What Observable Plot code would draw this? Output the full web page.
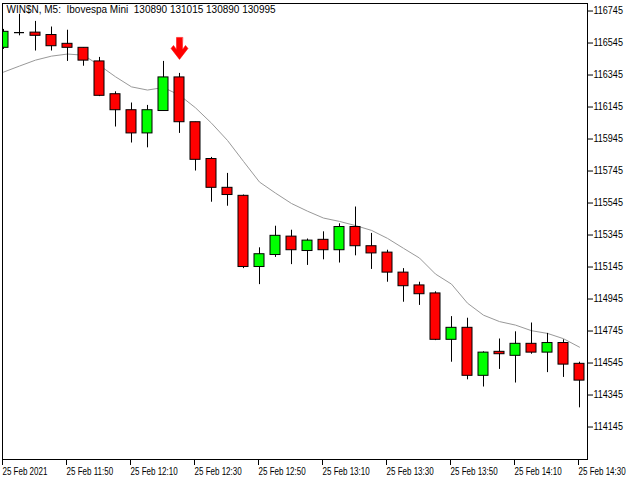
<!DOCTYPE html>
<html>
<head>
<meta charset="utf-8">
<script src="https://cdn.jsdelivr.net/npm/d3@7"></script>
<script src="https://cdn.jsdelivr.net/npm/@observablehq/plot@0.6"></script>
<style>
  body { margin: 0; background: #fff; }
  #chart svg { display: block; }
</style>
</head>
<body>
<div id="chart"></div>
<script>
// ---- data (5-minute candles, 25 Feb 2021) ----
const times = ["11:30","11:35","11:40","11:45","11:50","11:55","12:00","12:05","12:10","12:15",
               "12:20","12:25","12:30","12:35","12:40","12:45","12:50","12:55","13:00","13:05",
               "13:10","13:15","13:20","13:25","13:30","13:35","13:40","13:45","13:50","13:55",
               "14:00","14:05","14:10","14:15","14:20","14:25","14:30"];
const open  = [116515,116610,116610,116595,116540,116515,116430,116225,116125,115980,
               116120,116330,116050,115820,115640,115590,115145,115220,115335,115245,
               115315,115250,115395,115275,115235,115110,115030,114980,114690,114765,
               114465,114615,114590,114665,114610,114670,114540];
const high  = [116630,116725,116680,116645,116625,116515,116455,116240,116170,116155,
               116430,116355,116050,115830,115730,115595,115265,115400,115375,115320,
               115365,115415,115520,115355,115250,115135,115050,114990,114835,114825,
               114615,114695,114740,114795,114730,114690,114550];
const low   = [116505,116590,116495,116495,116430,116400,116210,116020,115920,115890,
               116120,115980,115745,115550,115525,115135,115035,115205,115160,115155,
               115190,115170,115215,115130,115050,114925,114905,114685,114550,114440,
               114395,114505,114420,114600,114485,114455,114265];
const close = [116615,116610,116590,116525,116515,116435,116215,116125,115980,116125,
               116330,116050,115815,115640,115595,115145,115225,115340,115250,115310,
               115250,115395,115275,115230,115110,115025,114975,114690,114765,114465,
               114610,114600,114665,114610,114670,114535,114435];
const ma    = [116363,116401,116438,116463,116476,116469,116405,116334,116271,116251,
               116267,116219,116140,116044,115936,115805,115676,115607,115542,115494,
               115451,115430,115404,115374,115324,115262,115201,115101,115038,114919,
               114844,114804,114782,114747,114730,114697,114644];

// sell signal arrow
const arrowTimes = ["12:25"];
const arrowTop   = [116580];

// axis ticks
const xTickTimes  = ["11:30","11:50","12:10","12:30","12:50","13:10","13:30","13:50","14:10","14:30"];
const xTickLabels = ["25 Feb 2021","25 Feb 11:50","25 Feb 12:10","25 Feb 12:30","25 Feb 12:50",
                     "25 Feb 13:10","25 Feb 13:30","25 Feb 13:50","25 Feb 14:10","25 Feb 14:30"];
const yTicks = [116745,116545,116345,116145,115945,115745,115545,115345,115145,114945,114745,114545,114345,114145];

const title = "WIN$N, M5:\u00a0 Ibovespa Mini\u00a0 130890 131015 130890 130995";

// ---- build table ----
const candles = times.map((t, i) => ({
  time: t, open: open[i], high: high[i], low: low[i], close: close[i], ma: ma[i],
  up: close[i] > open[i], doji: close[i] === open[i]
}));
const arrows = arrowTimes.map((t, i) => ({time: t, y: arrowTop[i]}));

const FONT = "'Liberation Sans', Arial, sans-serif";

// filled bold down arrow (drawn pointing up, rotated by Plot)
const boldArrow = {
  draw(ctx, l) {
    ctx.moveTo(-3, 0);
    ctx.lineTo(3, 0);
    ctx.lineTo(3, -l + 10);
    ctx.lineTo(6, -l + 14);
    ctx.lineTo(8.5, -l + 11);
    ctx.lineTo(0, -l);
    ctx.lineTo(-8.5, -l + 11);
    ctx.lineTo(-6, -l + 14);
    ctx.lineTo(-3, -l + 10);
    ctx.closePath();
  }
};

const chart = Plot.plot({
  width: 640,
  height: 480,
  marginLeft: 2,
  marginRight: 53,
  marginTop: 3,
  marginBottom: 21,
  style: {fontFamily: FONT, fontSize: "10px", background: "#fff", color: "#000"},
  x: {type: "band", domain: times, range: [-5.3, 586.7], paddingInner: 0.375, paddingOuter: 0.1875, align: 0.5},
  y: {domain: [113942, 116792]},
  marks: [
    Plot.lineY(candles, {x: "time", y: "ma", stroke: "#999", strokeWidth: 1, clip: true}),
    Plot.ruleX(candles, {x: "time", y1: "low", y2: "high", stroke: "#000", strokeWidth: 1, clip: true}),
    Plot.barY(candles.filter(d => !d.doji), {
      x: "time", y1: "open", y2: "close",
      fill: d => d.up ? "#00ff00" : "#ff0000",
      stroke: "#000", strokeWidth: 1, clip: true
    }),
    Plot.tickY(candles.filter(d => d.doji), {x: "time", y: "open", stroke: "#000", strokeWidth: 1.2}),
    Plot.vector(arrows, {
      x: "time", y: "y", length: 22, rotate: 180, anchor: "start",
      shape: boldArrow, fill: "#ff0000", stroke: "#ff0000", strokeWidth: 0.5
    }),
    Plot.frame({stroke: "#000"}),
    Plot.axisY(yTicks, {
      anchor: "right", tickSize: 5, tickPadding: 1, label: null,
      tickFormat: d => String(d), fontSize: 10, textAnchor: "start"
    }),
    Plot.axisX(xTickTimes, {
      anchor: "bottom", tickSize: 6, tickPadding: 2, label: null,
      tickFormat: d => xTickLabels[xTickTimes.indexOf(d)],
      textAnchor: "start", fontSize: 10, dx: -1
    }),
    Plot.text([title], {
      frameAnchor: "top-left", text: d => d, dx: 4, dy: 2,
      textAnchor: "start", lineAnchor: "top", fontSize: 10, fill: "#000"
    })
  ]
});
document.getElementById("chart").appendChild(chart);

// narrow the text horizontally to mimic the terminal's compact bitmap font
function squeeze(selector, k) {
  chart.querySelectorAll(selector).forEach(t => {
    const w = t.getComputedTextLength();
    if (w > 0) {
      t.setAttribute("textLength", (w * k).toFixed(1));
      t.setAttribute("lengthAdjust", "spacingAndGlyphs");
    }
  });
}
squeeze('g[aria-label="x-axis tick label"] text', 0.8);
squeeze('g[aria-label="y-axis tick label"] text', 0.9);
</script>
</body>
</html>
